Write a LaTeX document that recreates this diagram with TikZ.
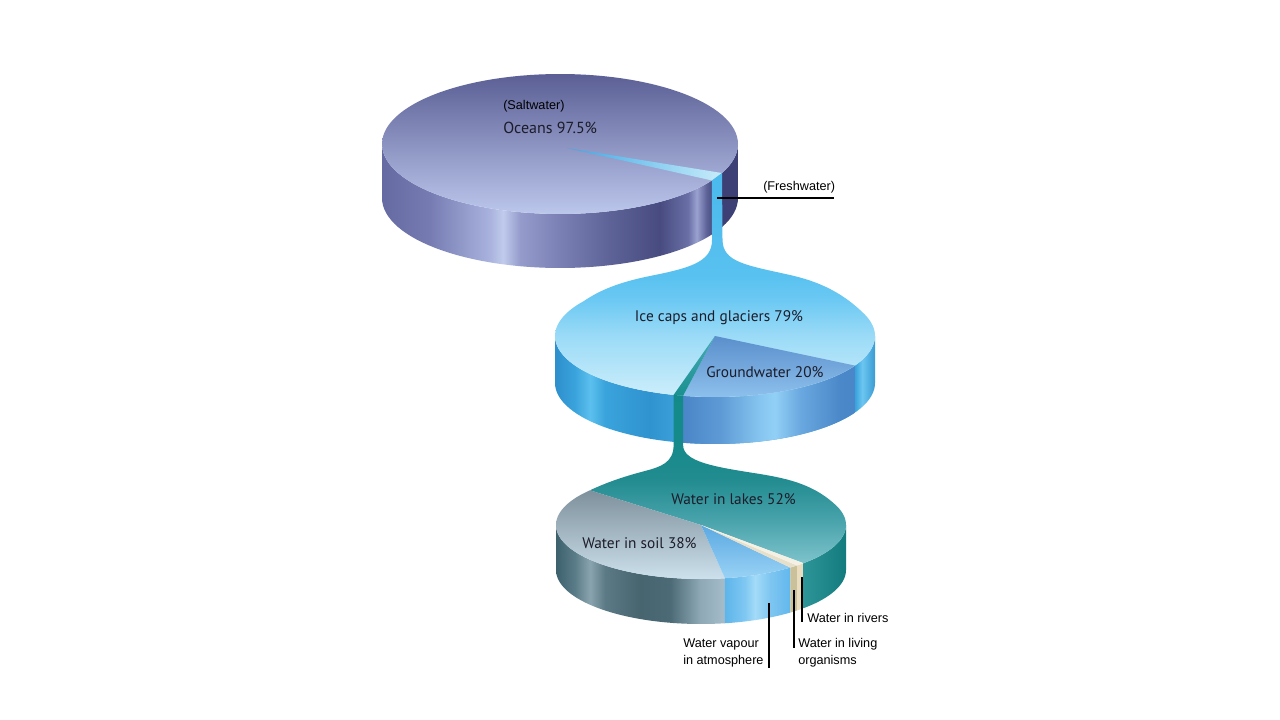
\documentclass[tikz,border=0pt]{standalone}
\usepackage{fontspec}
\newfontfamily\labfont{PT Sans}
\newfontfamily\smlfont{Liberation Sans}
% pie 1 side
\definecolor{aA}{HTML}{656BA2}\definecolor{aB}{HTML}{767CB2}\definecolor{aC}{HTML}{A9B3DE}
\definecolor{aD}{HTML}{C0CBEC}\definecolor{aE}{HTML}{959BCB}\definecolor{aF}{HTML}{7A80B4}
\definecolor{aG}{HTML}{5D6297}\definecolor{aH}{HTML}{474B80}\definecolor{aI}{HTML}{6A70A6}
\definecolor{aJ}{HTML}{9AA2D0}\definecolor{aK}{HTML}{5C6196}\definecolor{aL}{HTML}{3C4074}
\pgfdeclarehorizontalshading{pAside}{100bp}{color(0bp)=(aA); color(25bp)=(aA); color(31.7bp)=(aB);
 color(40.2bp)=(aC); color(42bp)=(aD); color(44.4bp)=(aE); color(50bp)=(aF); color(57bp)=(aG);
 color(64bp)=(aH); color(68bp)=(aI); color(69.2bp)=(aJ); color(70.6bp)=(aK); color(72bp)=(aL);
 color(75bp)=(aL); color(100bp)=(aL)}
% pie 2 side (ice)
\definecolor{bA}{HTML}{2D8FCB}\definecolor{bB}{HTML}{3AA3DC}\definecolor{bC}{HTML}{5CC0EE}
\definecolor{bD}{HTML}{2F93CF}\definecolor{bE}{HTML}{3A9FD8}\definecolor{bF}{HTML}{6CC6F0}
\definecolor{bG}{HTML}{3A9AD4}
\pgfdeclarehorizontalshading{pBside}{100bp}{color(0bp)=(bA); color(25bp)=(bA); color(28.1bp)=(bB);
 color(30.5bp)=(bC); color(32.8bp)=(bB); color(39.8bp)=(bD); color(43.3bp)=(bE); color(71.9bp)=(bB);
 color(73bp)=(bF); color(75bp)=(bG); color(100bp)=(bG)}
% groundwater side
\definecolor{gA}{HTML}{4A86C8}\definecolor{gB}{HTML}{5D9AD5}\definecolor{gC}{HTML}{86C5F0}
\definecolor{gD}{HTML}{92D0F6}\definecolor{gE}{HTML}{6AA8E0}\definecolor{gF}{HTML}{4A88C9}
\pgfdeclarehorizontalshading{pGside}{100bp}{color(0bp)=(gA); color(25bp)=(gA); color(35.8bp)=(gB);
 color(47.4bp)=(gC); color(51.7bp)=(gD); color(59bp)=(gE); color(70.6bp)=(gF); color(75bp)=(gA);
 color(100bp)=(gA)}
% ice face with neck
\definecolor{iA}{HTML}{CDEEFB}\definecolor{iB}{HTML}{9BDBF7}\definecolor{iC}{HTML}{6CC9F3}
\definecolor{iD}{HTML}{58C1F0}\definecolor{iE}{HTML}{4AB9EC}
\pgfdeclareverticalshading{pBface}{100bp}{color(0bp)=(iA); color(25bp)=(iA); color(38.6bp)=(iB);
 color(46.6bp)=(iC); color(52.2bp)=(iD); color(75bp)=(iE); color(100bp)=(iE)}
% lakes face with neck
\definecolor{lA}{HTML}{7EC3CC}\definecolor{lB}{HTML}{48A3AB}\definecolor{lC}{HTML}{228C90}
\definecolor{lD}{HTML}{178A8B}\definecolor{lE}{HTML}{138A89}
\pgfdeclareverticalshading{pLface}{100bp}{color(0bp)=(lA); color(25bp)=(lA); color(37.8bp)=(lB);
 color(49.7bp)=(lC); color(58.6bp)=(lD); color(75bp)=(lE); color(100bp)=(lE)}
% soil side
\definecolor{sA}{HTML}{3C616D}\definecolor{sB}{HTML}{5A7C88}\definecolor{sC}{HTML}{8AA4AE}
\definecolor{sD}{HTML}{5B7A86}\definecolor{sE}{HTML}{46656F}\definecolor{sF}{HTML}{4B6A76}
\definecolor{sG}{HTML}{8EA8B5}\definecolor{sH}{HTML}{A5BDCA}
\pgfdeclarehorizontalshading{pSside}{100bp}{color(0bp)=(sA); color(25bp)=(sA); color(30.6bp)=(sB);
 color(35.1bp)=(sC); color(39.5bp)=(sD); color(49.9bp)=(sE); color(58.7bp)=(sF); color(67.6bp)=(sG);
 color(75bp)=(sH); color(100bp)=(sH)}
% vapour side
\definecolor{vA}{HTML}{5DB5EA}\definecolor{vB}{HTML}{7FC8F2}\definecolor{vC}{HTML}{A4DBF8}
\definecolor{vD}{HTML}{7EC6F1}\definecolor{vE}{HTML}{62B8EC}
\pgfdeclarehorizontalshading{pVside}{100bp}{color(0bp)=(vA); color(25bp)=(vA); color(40.4bp)=(vB);
 color(48bp)=(vC); color(59.5bp)=(vD); color(75bp)=(vE); color(100bp)=(vE)}
\definecolor{txt}{HTML}{1C1C2A}
\tikzset{
 biglab/.style={font=\labfont\fontsize{11.5}{14}\selectfont, text=txt, inner sep=0pt},
 smllab/.style={font=\smlfont\fontsize{9.5}{12.8}\selectfont, text=black, inner sep=0pt},
 leader/.style={draw=black, line width=1.5pt}
}
\begin{document}
\begin{tikzpicture}[x=0.75pt,y=-0.75pt]
\fill[white] (0,0) rectangle (1280,720);
\useasboundingbox (0,0) rectangle (1280,720);
% ---------- pie 1 (oceans) ----------
\shade[shading=pAside] plot[domain=0:180,samples=60,variable=\t] ({560+178*cos(\t)},{144+70*sin(\t)})
 -- plot[domain=180:0,samples=60,variable=\t] ({560+178*cos(\t)},{198+70*sin(\t)}) -- cycle;
\shade[top color={rgb,255:red,91;green,95;blue,149}, bottom color={rgb,255:red,188;green,199;blue,236}]
 plot[domain=0:360,samples=120,variable=\t] ({560+178*cos(\t)},{144+70*sin(\t)}) -- cycle;
\shade[left color={rgb,255:red,59;green,167;blue,228}, right color={rgb,255:red,200;green,236;blue,250}]
 (567,148) -- plot[domain=24.5:31.4,samples=10,variable=\t] ({560+178*cos(\t)},{144+70*sin(\t)}) -- cycle;
% ---------- pie 2 sides ----------
\shade[shading=pBside] plot[domain=0:180,samples=60,variable=\t] ({715+160*cos(\t)},{336+61*sin(\t)})
 -- plot[domain=180:0,samples=60,variable=\t] ({715+160*cos(\t)},{383+61*sin(\t)}) -- cycle;
\shade[shading=pGside] plot[domain=29:101.5,samples=40,variable=\t] ({715+160*cos(\t)},{336+61*sin(\t)})
 -- plot[domain=101.5:29,samples=40,variable=\t] ({715+160*cos(\t)},{383+61*sin(\t)}) -- cycle;
% ---------- freshwater strip, neck and ice caps face ----------
\shade[shading=pBface] (722,173) -- (722.5,240)
 .. controls (723,262) and (745,265) .. (790,275)
 .. controls (830,284) and (850,300) .. (865.4,315.1)
 -- plot[domain=340:575,samples=120,variable=\t] ({715+160*cos(\t)},{336+61*sin(\t)})
 .. controls (600,290) and (620,282) .. (650,276)
 .. controls (690,268) and (712,262) .. (712,240) -- (711.9,180.5) -- cycle;
% groundwater face
\shade[top color={rgb,255:red,90;green,143;blue,204}, bottom color={rgb,255:red,141;green,192;blue,236}]
 (715,336) -- plot[domain=29:101.5,samples=40,variable=\t] ({715+160*cos(\t)},{336+61*sin(\t)}) -- cycle;
% teal sliver on pie 2 face
\shade[top color={rgb,255:red,70;green,170;blue,180}, bottom color={rgb,255:red,26;green,144;blue,144}]
 (715,336) -- plot[domain=101.5:105,samples=6,variable=\t] ({715+160*cos(\t)},{336+61*sin(\t)}) -- cycle;
% ---------- pie 3 sides ----------
\shade[shading=pSside] plot[domain=80.5:180,samples=50,variable=\t] ({701+145*cos(\t)},{525+54*sin(\t)})
 -- plot[domain=180:80.5,samples=50,variable=\t] ({701+145*cos(\t)},{570+54*sin(\t)}) -- cycle;
\shade[shading=pVside] plot[domain=52:80.5,samples=20,variable=\t] ({701+145*cos(\t)},{525+54*sin(\t)})
 -- plot[domain=80.5:52,samples=20,variable=\t] ({701+145*cos(\t)},{570+54*sin(\t)}) -- cycle;
\fill[color={rgb,255:red,202;green,193;blue,154}] plot[domain=48.5:52,samples=5,variable=\t] ({701+145*cos(\t)},{525+54*sin(\t)})
 -- plot[domain=52:48.5,samples=5,variable=\t] ({701+145*cos(\t)},{570+54*sin(\t)}) -- cycle;
\fill[color={rgb,255:red,233;green,220;blue,191}] plot[domain=45:48.5,samples=5,variable=\t] ({701+145*cos(\t)},{525+54*sin(\t)})
 -- plot[domain=48.5:45,samples=5,variable=\t] ({701+145*cos(\t)},{570+54*sin(\t)}) -- cycle;
\shade[left color={rgb,255:red,45;green,149;blue,152}, right color={rgb,255:red,19;green,122;blue,125}]
 plot[domain=0:45,samples=20,variable=\t] ({701+145*cos(\t)},{525+54*sin(\t)})
 -- plot[domain=45:0,samples=20,variable=\t] ({701+145*cos(\t)},{570+54*sin(\t)}) -- cycle;
% ---------- teal strip, neck and lakes face ----------
\shade[shading=pLface] (701,525)
 -- plot[domain=405:340,samples=40,variable=\t] ({701+145*cos(\t)},{525+54*sin(\t)})
 .. controls (815,485) and (790,479) .. (760,474)
 .. controls (715,467) and (683,462) .. (683.1,445)
 -- plot[domain=101.5:105,samples=6,variable=\t] ({715+160*cos(\t)},{336+61*sin(\t)})
 -- (673.6,445)
 .. controls (673.6,463) and (660,467) .. (645,471)
 .. controls (630,475) and (612,480) .. (589.9,490.3) -- cycle;
% soil face
\shade[top color={rgb,255:red,125;green,144;blue,155}, bottom color={rgb,255:red,205;green,225;blue,236}]
 (701,525) -- plot[domain=80.5:220,samples=60,variable=\t] ({701+145*cos(\t)},{525+54*sin(\t)}) -- cycle;
% vapour face
\shade[top color={rgb,255:red,91;green,169;blue,226}, bottom color={rgb,255:red,153;green,210;blue,245}]
 (701,525) -- plot[domain=52:80.5,samples=20,variable=\t] ({701+145*cos(\t)},{525+54*sin(\t)}) -- cycle;
\fill[color={rgb,255:red,230;green,223;blue,201}]
 (701,525) -- plot[domain=48.5:52,samples=5,variable=\t] ({701+145*cos(\t)},{525+54*sin(\t)}) -- cycle;
\fill[color={rgb,255:red,244;green,240;blue,228}]
 (701,525) -- plot[domain=45:48.5,samples=5,variable=\t] ({701+145*cos(\t)},{525+54*sin(\t)}) -- cycle;
% ---------- labels ----------
\node[smllab, anchor=west] (salt) at (503,106) {(Saltwater)};
\node[biglab, anchor=west, font=\labfont\fontsize{12}{14}\selectfont] (ocean) at (503,128) {Oceans 97.5\%};
\node[biglab] (ice) at (719,318) {Ice caps and glaciers 79\%};
\node[biglab, anchor=west] (ground) at (706,372) {Groundwater 20\%};
\node[biglab, anchor=west] (lakes) at (671,499) {Water in lakes 52\%};
\node[biglab, anchor=west] (soil) at (582,543) {Water in soil 38\%};
\node[smllab, anchor=west] (fresh) at (763,187) {(Freshwater)};
\node[smllab, anchor=west] (rivers) at (807,618) {Water in rivers};
\node[smllab, anchor=west, align=left] (living) at (798,652.5) {Water in living\\organisms};
\node[smllab, anchor=west, align=left] (vapour) at (683,652.5) {Water vapour\\in atmosphere};
% ---------- leaders ----------
\coordinate (fwA) at (717,198);
\coordinate (fwB) at (834,198);
\coordinate (rvA) at (802,577);
\coordinate (rvB) at (802,622);
\coordinate (lvA) at (794,590);
\coordinate (lvB) at (794,648);
\coordinate (vpA) at (769,603);
\coordinate (vpB) at (769,668);
\draw[leader] (fwA) -- (fwB);
\draw[leader] (rvA) -- (rvB);
\draw[leader] (lvA) -- (lvB);
\draw[leader] (vpA) -- (vpB);
\end{tikzpicture}
\end{document}
